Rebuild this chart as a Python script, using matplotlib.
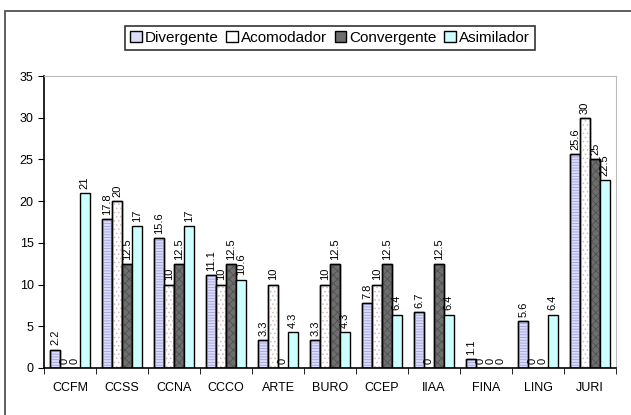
import matplotlib.pyplot as plt
import numpy as np
from matplotlib.patches import Rectangle

plt.rcParams['font.family'] = ['Liberation Sans', 'DejaVu Sans']
plt.rcParams['hatch.linewidth'] = 0.6

categorias = ['CCFM', 'CCSS', 'CCNA', 'CCCO', 'ARTE', 'BURO', 'CCEP', 'IIAA', 'FINA', 'LING', 'JURI']
divergente = [2.2, 17.8, 15.6, 11.1, 3.3, 3.3, 7.8, 6.7, 1.1, 5.6, 25.6]
acomodador = [0, 20, 10, 10, 10, 10, 10, 0, 0, 0, 30]
convergente = [0, 12.5, 12.5, 12.5, 0, 12.5, 12.5, 12.5, 0, 0, 25]
asimilador = [21, 17, 17, 10.6, 4.3, 4.3, 6.4, 6.4, 0, 6.4, 22.5]

series = [('Divergente', divergente, '#dcdcfa', '------', '#a0a0e0'),
          ('Acomodador', acomodador, 'white', '....', '#d8b8b8'),
          ('Convergente', convergente, '#6e6e6e', 'xxxx', '#505050'),
          ('Asimilador', asimilador, '#ccffff', None, None)]

fig = plt.figure(figsize=(6.31, 4.15), dpi=100)
# marco exterior
fig.patches.append(Rectangle((5/631, -0.1), 1.2, 1 - 11/415 + 0.1, transform=fig.transFigure,
                             fill=False, edgecolor='#444444', linewidth=1.2))
ax = fig.add_axes([44/631, 1 - 368/415, (616 - 44)/631, (368 - 76)/415])

x = np.arange(len(categorias))
w = 0.19
handles = []
for k, (nombre, vals, color, hatch, hcol) in enumerate(series):
    pos = x + (k - 1.5) * w
    bars = ax.bar(pos, vals, w, color=color, edgecolor='black', linewidth=1.0, label=nombre)
    if hatch:
        ax.bar(pos, vals, w, color='none', edgecolor=hcol, hatch=hatch, linewidth=0)
        ax.bar(pos, vals, w, color='none', edgecolor='black', linewidth=1.0)
    handles.append(bars)
    for p, v in zip(pos, vals):
        ax.text(p, v + 0.5, '%g' % v, rotation=90, ha='center', va='bottom', fontsize=8)

ax.set_xlim(-0.5, len(categorias) - 0.5)
ax.set_ylim(0, 35)
ax.set_yticks(range(0, 36, 5))
ax.set_xticks(x)
ax.set_xticklabels(categorias, fontsize=9)
ax.set_xticks(np.arange(-0.5, len(categorias)), minor=True)
ax.tick_params(axis='x', which='major', length=0, pad=10)
ax.tick_params(axis='x', which='minor', length=4, direction='out')
ax.tick_params(axis='y', length=4, direction='out', labelsize=9)
for s in ['top', 'right']:
    ax.spines[s].set_color('#bbbbbb')
for s in ['left', 'bottom']:
    ax.spines[s].set_linewidth(1.2)

leg = fig.legend(handles=handles, loc='center', bbox_to_anchor=(330/631, 1 - 38/415), ncol=4,
                 frameon=True, fancybox=False, fontsize=11, handlelength=0.75, handleheight=0.75,
                 handletextpad=0.2, columnspacing=0.5, borderpad=0.35, edgecolor='black')
leg.get_frame().set_linewidth(1.2)

fig.savefig('out.png', dpi=100)
